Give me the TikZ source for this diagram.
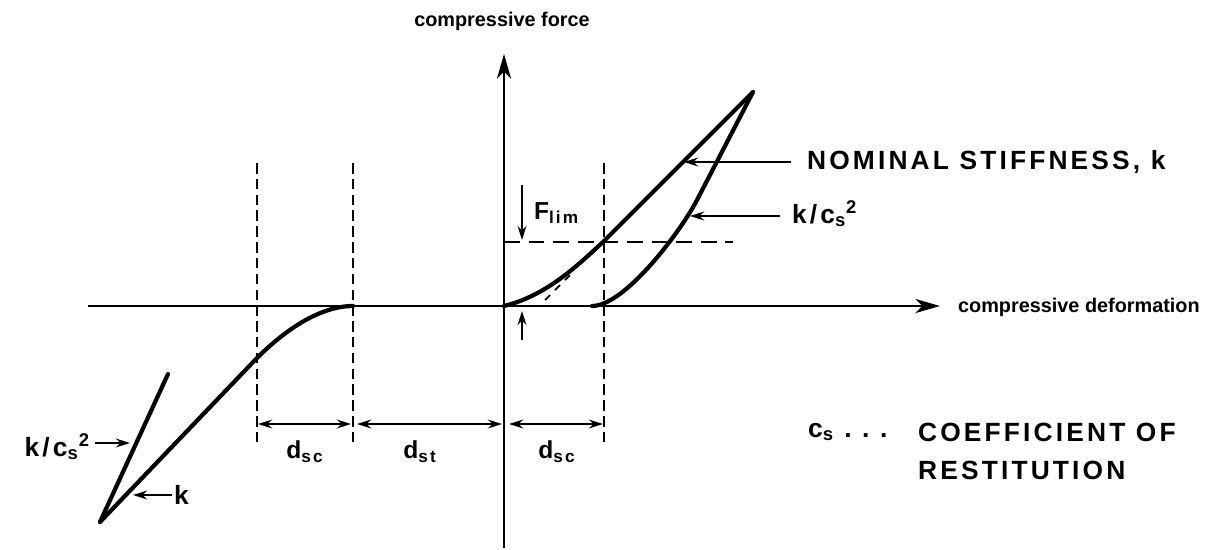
\documentclass[tikz,border=0pt]{standalone}
\usepackage{fontspec}
\setmainfont{Liberation Sans}
\newfontfamily\capfont[LetterSpace=12]{Liberation Sans}
\usetikzlibrary{arrows.meta,positioning,calc}
\tikzset{
  >=Stealth,
  axis/.style   ={line width=1.3pt,-{Stealth[length=14pt,width=8pt,inset=4pt]}},
  curve/.style  ={line width=2.4pt,line cap=round,line join=round},
  guide/.style  ={line width=1.1pt,dash pattern=on 6pt off 3pt},
  limit/.style  ={line width=1.1pt,dash pattern=on 9pt off 5pt},
  dim/.style    ={line width=1.3pt,{Stealth[length=8pt,width=5pt]}-{Stealth[length=8pt,width=5pt]}},
  pointer/.style={line width=1.3pt,-{Stealth[length=8pt,width=5pt]}},
  axlabel/.style={font=\fontsize{11.3}{13}\selectfont\bfseries,inner sep=1pt},
  caplabel/.style={font=\fontsize{15}{17}\selectfont\capfont\bfseries,inner sep=1pt},
  dlabel/.style ={font=\fontsize{14}{16}\selectfont\capfont\bfseries,inner sep=1pt},
}

\begin{document}
\begin{tikzpicture}[x=0.02cm,y=-0.02cm]
  \useasboundingbox (0,0) rectangle (1212,550);
  % ---- axes ----
  \coordinate (O) at (504,306);
  \coordinate (xl) at (88,306);  \coordinate (xr) at (940,306);
  \coordinate (yb) at (504,548); \coordinate (yt) at (504,54);
  \draw[axis] (xl) -- (xr);
  \draw[axis] (yb) -- (yt);
  \node[axlabel] (fy) at (502,21) {compressive force};
  \node[axlabel,anchor=west] (fx) at (956,307) {compressive deformation};

  % guide lines
  \coordinate (g1t) at (257,163); \coordinate (g1b) at (257,445);
  \coordinate (g2t) at (353,163); \coordinate (g2b) at (353,445);
  \coordinate (g3t) at (604,163); \coordinate (g3b) at (604,445);
  \draw[guide] (g1t) -- (g1b);
  \draw[guide] (g2t) -- (g2b);
  \draw[guide] (g3t) -- (g3b);
  \coordinate (fl0) at (504,242); \coordinate (fl1) at (733,242);
  \draw[limit] (fl0) -- (fl1);

  % ---- force / deformation curves ----
  \coordinate (P) at (753,92);
  \coordinate (T) at (100,522);
  \draw[curve] (O) .. controls (545,296) and (575,268) .. (603,242) -- (P);
  \draw[curve] (P) -- (697,200) .. controls (681,231) and (625,306) .. (592,306);
  \draw[curve] (T) -- (168,374);
  \draw[curve] (T) -- (257,358) .. controls (285,330) and (320,306) .. (353,306);
  \draw[line width=1pt,dash pattern=on 4pt off 4pt] (545,300) -- (574,271);

  % ---- dimensions ----
  \coordinate (d1) at (258,424); \coordinate (d2) at (351,424);
  \coordinate (d3) at (357,424); \coordinate (d4) at (502,424);
  \coordinate (d5) at (509,424); \coordinate (d6) at (603,424);
  \draw[dim] (d1) -- (d2);
  \draw[dim] (d3) -- (d4);
  \draw[dim] (d5) -- (d6);
  \node[dlabel] (dsc1) at (305,452) {d\textsubscript{sc}};
  \node[dlabel] (dst) at (420,452) {d\textsubscript{st}};
  \node[dlabel] (dsc2) at (557,452) {d\textsubscript{sc}};

  % F_lim
  \coordinate (fa0) at (522,185); \coordinate (fa1) at (522,240);
  \draw[pointer] (fa0) -- (fa1);
  \node[dlabel,anchor=west] (flim) at (532,213) {F\textsubscript{lim}};
  \coordinate (ua0) at (522,340); \coordinate (ua1) at (522,311);
  \draw[pointer] (ua0) -- (ua1);

  % ---- right labels ----
  \node[caplabel,anchor=west] (nom) at (805,162) {NOMINAL STIFFNESS, k};
  \coordinate (nomt) at (684,162);
  \draw[pointer] ($(nom.west)+(-14,0)$) -- (nomt);
  \node[caplabel,anchor=west] (kcr) at (790,214) {k/c\textsubscript{s}\textsuperscript{2}};
  \coordinate (kcrt) at (690,216);
  \draw[pointer] ($(kcr.west)+(-10,2)$) -- (kcrt);

  % ---- left labels ----
  \node[caplabel,anchor=east] (kcl) at (92,447) {k/c\textsubscript{s}\textsuperscript{2}};
  \coordinate (kclt) at (130,443);
  \draw[pointer] ($(kcl.east)+(3,-4)$) -- (kclt);
  \node[caplabel,anchor=west] (kl) at (172,495) {k};
  \coordinate (klt) at (133,495);
  \draw[pointer] (kl.west) -- (klt);

  % legend
  \node[caplabel,anchor=west] (cs) at (806,432) {c\textsubscript{s} .\ .\ .};
  \node[caplabel,anchor=west] (coef) at (916,432) {COEFFICIENT OF};
  \node[caplabel,anchor=west] (rs) at ($(coef.west)+(0,38)$) {RESTITUTION};
\end{tikzpicture}
\end{document}
